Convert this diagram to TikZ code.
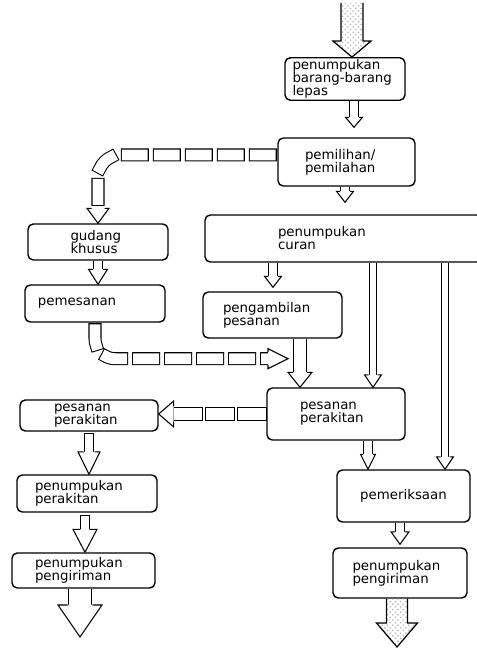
\documentclass[tikz,border=0pt]{standalone}
\usepackage{fontspec}
\newfontfamily\lab{DejaVu Sans}
\usetikzlibrary{calc,patterns}

\tikzset{
  box/.style={draw,line width=0.8pt,rounded corners=3pt,fill=white,inner xsep=0pt,inner ysep=1pt,align=left,font=\lab\fontsize{7.6}{7.4}\selectfont},
  tube/.style={double,double distance=#1,line width=0.6pt},
  seg/.style={dash pattern=on 0.3cm off 0.34cm,line cap=rect,shorten <=0.14cm},
  hd/.style={line width=0.6pt,fill=white},
  hatch/.style={line width=0.7pt,pattern=crosshatch dots,pattern color=black!30}
}

% hollow heads: tip, half shaft, half head, length
\newcommand{\headdn}[4]{\filldraw[hd] ($(#1)+(-#2,#4)$) -- ++({#2-#3},0) -- (#1) -- ++(#3,#4) -- ++({#2-#3},0);}
\newcommand{\headlt}[4]{\filldraw[hd] ($(#1)+(#4,#2)$) -- ++(0,{#3-#2}) -- (#1) -- ++(#4,-#3) -- ++(0,{#3-#2});}
\newcommand{\headrt}[4]{\filldraw[hd] ($(#1)+(-#4,#2)$) -- ++(0,{#3-#2}) -- (#1) -- ++(-#4,-#3) -- ++(0,{#3-#2});}
% big dotted arrow: from, tip, half shaft, half head, length
\newcommand{\bigdn}[5]{\filldraw[hatch] ($(#1)+(-#3,0)$) -- ($(#2)+(-#3,#5)$) -- ++({#3-#4},0) -- (#2) -- ++(#4,#5) -- ++({#3-#4},0) -- ($(#1)+(#3,0)$);}

\begin{document}
\begin{tikzpicture}
\useasboundingbox (0,0) rectangle (9.54,12.98);

\node[box,minimum width=2.4cm,minimum height=0.8cm,text width=2.1cm] (lepas) at (6.90,11.40) {penumpukan\\barang-barang\\lepas};
\node[box,minimum width=2.74cm,minimum height=0.96cm,text width=1.66cm] (pilih) at (6.93,9.74) {pemilihan/\\pemilahan};
\node[box,minimum width=5.54cm,minimum height=0.94cm,text width=2.62cm] (curan) at (6.87,8.21) {penumpukan\\curan};
\node[box,minimum width=2.8cm,minimum height=0.72cm,text width=1.1cm] (gudang) at (1.96,8.14) {gudang\\khusus};
\node[box,minimum width=2.8cm,minimum height=0.74cm,text width=2.28cm] (pesan) at (1.90,6.91) {pemesanan};
\node[box,minimum width=2.78cm,minimum height=0.92cm,text width=1.98cm] (ambil) at (5.45,6.68) {pengambilan\\pesanan};
\node[box,minimum width=2.76cm,minimum height=1.04cm,text width=1.44cm] (rakitA) at (6.72,4.70) {pesanan\\perakitan};
\node[box,minimum width=2.76cm,minimum height=0.62cm,text width=1.4cm] (rakitB) at (1.78,4.67) {pesanan\\perakitan};
\node[box,minimum width=2.8cm,minimum height=0.74cm,text width=2.08cm] (tumpukA) at (1.74,3.11) {penumpukan\\perakitan};
\node[box,minimum width=2.86cm,minimum height=0.70cm,text width=1.94cm] (kirimA) at (1.67,1.57) {penumpukan\\pengiriman};
\node[box,minimum width=2.66cm,minimum height=1.04cm,align=center] (periksa) at (8.07,3.06) {pemeriksaan};
\node[box,minimum width=2.68cm,minimum height=1.0cm,text width=1.9cm] (kirimB) at (8.00,1.52) {penumpukan\\pengiriman};

\coordinate (in) at (7.04,12.92);
\coordinate (out1) at (1.60,0.24);
\coordinate (out2) at (7.94,0.04);

% masuk dan keluar
\bigdn{in}{in |- lepas.north}{0.22}{0.38}{0.32}
\bigdn{kirimB.south -| out2}{out2}{0.21}{0.41}{0.48}

% kolom kanan
\coordinate (t1) at ($(pilih.north)+(0.15,0.2)$);
\draw[tube=4.5pt] (t1 |- lepas.south) -- ($(t1)+(0,0.2)$);
\headdn{t1}{0.1}{0.17}{0.2}
\coordinate (t2) at ($(curan.north -| pilih.south)+(-0.03,0.24)$);
\draw[tube=4.5pt] (pilih.south -| t2) -- ($(t2)+(0,0.22)$);
\headdn{t2}{0.1}{0.17}{0.22}

\draw[tube=6.2pt,seg,rounded corners=0.45cm] ($(pilih.west)+(0,0.14)$) -| ($(gudang.north)+(0,0.3)$);
\headdn{gudang.north}{0.13}{0.22}{0.3}

\draw[tube=4.5pt] (gudang.south) -- ($(pesan.north -| gudang.south)+(0,0.3)$);
\headdn{pesan.north -| gudang.south}{0.1}{0.19}{0.3}

\coordinate (t3) at ($(ambil.north)+(0.01,0.08)$);
\draw[tube=4.5pt] (curan.south -| t3) -- ($(t3)+(0,0.22)$);
\headdn{t3}{0.1}{0.17}{0.22}

\coordinate (ab) at ($(ambil.south)+(0.55,0)$);
\draw[tube=6.8pt] (ab) -- ($(ab |- rakitA.north)+(0,0.3)$);
\headdn{ab |- rakitA.north}{0.14}{0.24}{0.3}

\coordinate (t4) at ($(ab)+(-0.24,-0.4)$);
\draw[tube=6.2pt,seg,rounded corners=0.4cm] (pesan.south) |- ($(t4)+(-0.4,0)$);
\headrt{t4}{0.13}{0.2}{0.4}

% dari penumpukan curan
\coordinate (t5) at (7.46,0);
\draw[tube=3.8pt,line width=0.5pt] (curan.south -| t5) -- ($(t5 |- rakitA.north)+(0,0.25)$);
\headdn{t5 |- rakitA.north}{0.09}{0.17}{0.25}
\coordinate (t6) at (8.90,0);
\draw[tube=3.8pt,line width=0.5pt] (curan.south -| t6) -- ($(t6 |- periksa.north)+(0,0.25)$);
\headdn{t6 |- periksa.north}{0.09}{0.17}{0.25}

\coordinate (t7) at (7.36,0);
\draw[tube=4.5pt] (rakitA.south -| t7) -- ($(t7 |- periksa.north)+(0,0.3)$);
\headdn{t7 |- periksa.north}{0.1}{0.15}{0.3}

\coordinate (t9) at ($(kirimB.north)+(0,0.06)$);
\draw[tube=4.5pt] (periksa.south -| t9) -- ($(t9)+(0,0.25)$);
\headdn{t9}{0.1}{0.18}{0.25}

% kolom kiri
\draw[tube=7.3pt,seg] (rakitA.west) -- ($(rakitB.east |- rakitA.west)+(0.3,0)$);
\headlt{rakitB.east |- rakitA.west}{0.15}{0.26}{0.3}

\draw[tube=5pt,seg] (rakitB.south) -- ($(rakitB.south |- tumpukA.north)+(0,0.45)$);
\headdn{rakitB.south |- tumpukA.north}{0.11}{0.22}{0.45}

\coordinate (t8) at (1.70,0);
\draw[tube=4.5pt,seg] (tumpukA.south -| t8) -- ($(t8 |- kirimA.north)+(0,0.46)$);
\headdn{t8 |- kirimA.north}{0.1}{0.24}{0.46}

\draw[tube=13pt] (kirimA.south -| out1) -- ($(out1)+(0,0.64)$);
\headdn{out1}{0.25}{0.44}{0.64}
\end{tikzpicture}
\end{document}
